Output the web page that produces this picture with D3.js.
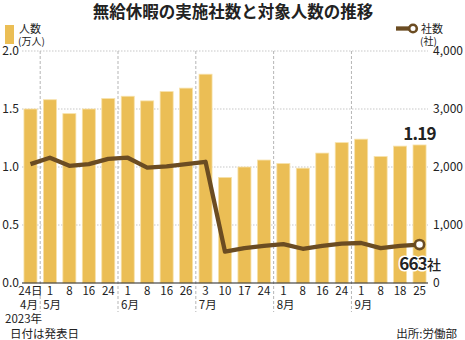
<!DOCTYPE html>
<html><head><meta charset="utf-8">
<script src="https://cdn.jsdelivr.net/npm/d3@7"></script>
<style>
body{margin:0;background:#fff;}
text{font-family:"Noto Sans CJK JP","Noto Sans",sans-serif;fill:#222;}
</style></head>
<body>
<svg id="c" width="465" height="340"></svg>
<script>
const title = "無給休暇の実施社数と対象人数の推移";
const days = ["24日","1","8","16","24","1","8","16","26","3","10","17","24","1","8","16","24","1","8","18","25"];
const monthLabels = ["4月","5月","6月","7月","8月","9月"];
const monthStart = [0,1,5,9,13,17];
const people = [1.50,1.58,1.46,1.50,1.59,1.61,1.57,1.65,1.68,1.80,0.91,1.00,1.06,1.03,0.99,1.12,1.21,1.24,1.09,1.18,1.19];
const companies = [2050,2160,2020,2050,2140,2160,1990,2010,2050,2090,540,600,640,670,590,640,680,690,600,640,663];
const leftTicks = [0,0.5,1.0,1.5,2.0];
const rightTicks = [0,1000,2000,3000,4000];

const barColor = "#EBBE55", lineColor = "#6B4C22";
const svg = d3.select("#c");
const L = 22, R = 428, T = 51, B = 283;
const x = d3.scaleBand().domain(d3.range(days.length)).range([L, R]).paddingInner(0.33).paddingOuter(0.1);
const yL = d3.scaleLinear().domain([0, 2]).range([B, T]);
const yR = d3.scaleLinear().domain([0, 4000]).range([B, T]);

// title
svg.append("text").attr("x", 233).attr("y", 18).attr("text-anchor","middle")
  .style("font-size","16.5px").style("font-weight","bold").text(title);

// horizontal grid
svg.append("g").selectAll("line").data(leftTicks.slice(1)).join("line")
  .attr("x1", L).attr("x2", R).attr("y1", d => yL(d)).attr("y2", d => yL(d))
  .attr("stroke","#c8c8c8").attr("stroke-width",1.2).attr("stroke-dasharray","1.5,1.5");

// month dividers
const step = x.step();
svg.append("g").selectAll("line").data(monthStart.slice(1)).join("line")
  .attr("x1", d => x(d) - step*x.paddingInner()/2).attr("x2", d => x(d) - step*x.paddingInner()/2)
  .attr("y1", T).attr("y2", 312)
  .attr("stroke","#b5b5b5").attr("stroke-width",1).attr("stroke-dasharray","3,2");

// bars
svg.append("g").selectAll("rect").data(people).join("rect")
  .attr("x", (d,i) => x(i)).attr("width", x.bandwidth())
  .attr("y", d => yL(d)).attr("height", d => B - yL(d))
  .attr("fill", barColor).attr("stroke","#f7e2ab").attr("stroke-width",0.8);

// baseline
svg.append("line").attr("x1", L).attr("x2", R).attr("y1", B).attr("y2", B)
  .attr("stroke","#222").attr("stroke-width",1.2);

// left axis labels
svg.append("g").selectAll("text").data(leftTicks).join("text")
  .attr("x", 19).attr("y", d => yL(d)).attr("dy","0.36em").attr("text-anchor","end")
  .style("font-size","12px").text(d => d.toFixed(1));
// right axis labels
svg.append("g").selectAll("text").data(rightTicks).join("text")
  .attr("x", 433).attr("y", d => yR(d)).attr("dy","0.36em").attr("text-anchor","start")
  .style("font-size","12px").text(d => d3.format(",")(d));

// day labels
svg.append("g").selectAll("text").data(days).join("text")
  .attr("x", (d,i) => x(i) + x.bandwidth()/2).attr("y", 295).attr("text-anchor","middle")
  .style("font-size","11.5px").text(d => d);
// month labels
svg.append("g").selectAll("text").data(monthLabels).join("text")
  .attr("x", (d,i) => i === 0 ? x(0) + x.bandwidth() + 1 : x(monthStart[i]) - step*x.paddingInner()/2 + 3)
  .attr("y", 309).attr("text-anchor", (d,i) => i === 0 ? "end" : "start")
  .style("font-size","11.5px").text(d => d);

// line
const line = d3.line().x((d,i) => x(i) + x.bandwidth()/2).y(d => yR(d));
svg.append("path").datum(companies).attr("d", line).attr("fill","none")
  .attr("stroke", lineColor).attr("stroke-width",4.3).attr("stroke-linejoin","round");
const li = companies.length - 1;
svg.append("circle").attr("cx", x(li) + x.bandwidth()/2).attr("cy", yR(companies[li])).attr("r",4.6)
  .attr("fill","#fff").attr("stroke", lineColor).attr("stroke-width",2.6);

// annotations
svg.append("text").attr("x", x(li) + x.bandwidth()/2).attr("y", yL(people[li]) - 5)
  .attr("text-anchor","middle").style("font-size","17px").style("font-weight","600").style("letter-spacing","-0.8px")
  .attr("stroke","#fff").attr("stroke-width",3).attr("paint-order","stroke")
  .text(d3.format(".2f")(people[li]));
const ann = svg.append("text").attr("x", 441).attr("y", 270).attr("text-anchor","end")
  .attr("stroke","#fff").attr("stroke-width",3).attr("paint-order","stroke");
ann.append("tspan").style("font-size","17px").style("font-weight","600").style("letter-spacing","-0.8px").text(companies[li]);
ann.append("tspan").style("font-size","14px").style("font-weight","500").text("社");

// legend left
svg.append("rect").attr("x",5).attr("y",25).attr("width",9).attr("height",19).attr("fill",barColor);
svg.append("text").attr("x",19).attr("y",33).style("font-size","11px").text("人数");
svg.append("text").attr("x",18).attr("y",45).style("font-size","10px").text("(万人)");
// legend right
svg.append("line").attr("x1",396).attr("x2",410).attr("y1",28.5).attr("y2",28.5)
  .attr("stroke",lineColor).attr("stroke-width",4.3);
svg.append("circle").attr("cx",413).attr("cy",28.5).attr("r",3.8)
  .attr("fill","#fff").attr("stroke",lineColor).attr("stroke-width",2.6);
svg.append("text").attr("x",421).attr("y",33).style("font-size","11px").text("社数");
svg.append("text").attr("x",420).attr("y",45).style("font-size","10px").text("(社)");

// footnotes
svg.append("text").attr("x",5).attr("y",323).style("font-size","11.5px").text("2023年");
svg.append("text").attr("x",10).attr("y",338).style("font-size","11.5px").text("日付は発表日");
svg.append("text").attr("x",457).attr("y",338).attr("text-anchor","end").style("font-size","11.5px").text("出所:労働部");
</script>
</body></html>
